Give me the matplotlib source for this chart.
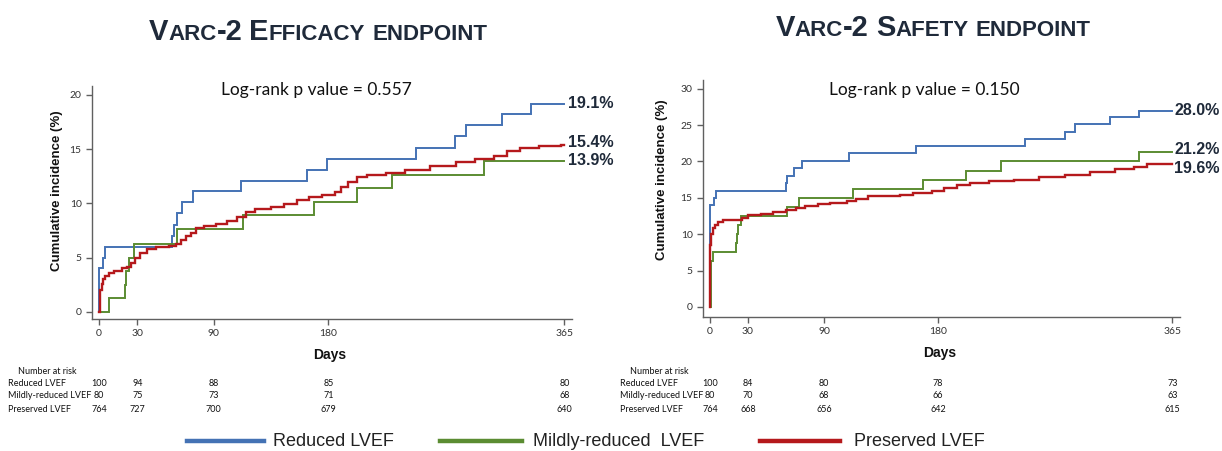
import matplotlib
matplotlib.use("Agg")
import matplotlib.pyplot as plt
from matplotlib import transforms
from matplotlib.lines import Line2D

# ---------------- data ----------------
groups = ["Reduced LVEF", "Mildly-reduced LVEF", "Preserved LVEF"]
legend_labels = ["Reduced LVEF", "Mildly-reduced  LVEF", "Preserved LVEF"]
x_ticks = [0, 30, 90, 180, 365]

# Efficacy endpoint
eff_blue_days = [0, 0, 3, 5, 57, 59, 61, 65, 74, 111, 163, 179, 249, 279, 288, 316, 339, 365]
eff_blue_vals = [0, 4.0, 5.0, 6.0, 7.0, 8.0, 9.1, 10.1, 11.1, 12.1, 13.1, 14.1, 15.1, 16.2, 17.2, 18.2, 19.1, 19.1]
eff_green_days = [0, 8, 20.5, 21.5, 23.5, 27.5, 61.5, 113, 169, 202, 230, 302, 365]
eff_green_vals = [0, 1.25, 2.5, 3.8, 5.0, 6.3, 7.6, 8.9, 10.1, 11.4, 12.6, 13.9, 13.9]
eff_red_days = [0, 0.5, 1, 2, 3, 5, 8, 12, 18, 22, 25, 28, 32, 38, 45, 55, 60, 64, 68, 72,
                76, 82, 92, 100, 108, 115, 122, 135, 145, 155, 165, 175, 185, 190, 195, 202,
                210, 225, 240, 260, 280, 295, 310, 320, 330, 345, 362, 365]
eff_red_vals = [0, 1.3, 2.0, 2.6, 3.0, 3.3, 3.6, 3.8, 4.0, 4.1, 4.5, 5.0, 5.4, 5.8, 6.0, 6.1,
                6.3, 6.6, 7.0, 7.3, 7.7, 7.9, 8.1, 8.4, 8.7, 9.2, 9.5, 9.7, 9.9, 10.3, 10.6,
                10.8, 11.0, 11.5, 12.0, 12.4, 12.6, 12.8, 13.1, 13.4, 13.8, 14.1, 14.4, 14.8,
                15.1, 15.3, 15.4, 15.4]
eff_end_labels = ["19.1%", "13.9%", "15.4%"]
eff_p = "Log-rank p value = 0.557"
eff_risk = [[100, 94, 88, 85, 80], [80, 75, 73, 71, 68], [764, 727, 700, 679, 640]]
eff_yticks = [0, 5, 10, 15, 20]

# Safety endpoint
saf_blue_days = [0, 0, 3, 4.5, 60, 61, 66, 73, 110, 163, 249, 280, 288, 316, 339, 365]
saf_blue_vals = [0, 14.0, 15.0, 16.0, 17.0, 18.0, 19.1, 20.1, 21.1, 22.1, 23.1, 24.1, 25.1, 26.1, 27.0, 27.0]
saf_green_days = [0, 0.5, 1, 2.5, 20.5, 21.5, 22.5, 24.5, 61, 70, 113, 168.5, 202, 230, 339, 365]
saf_green_vals = [0, 5.0, 6.25, 7.5, 8.75, 10.0, 11.25, 12.5, 13.75, 15.0, 16.25, 17.5, 18.75, 20.0, 21.25, 21.25]
saf_red_days = [0, 0.3, 1, 2, 4, 6, 10, 20, 25, 30, 40, 50, 60, 68, 75, 85, 95, 108, 115, 125,
                150, 160, 175, 185, 195, 205, 220, 240, 260, 280, 300, 320, 335, 345, 365]
saf_red_vals = [0, 8.5, 10.0, 10.8, 11.3, 11.7, 11.9, 12.0, 12.2, 12.6, 12.8, 13.1, 13.3, 13.6,
                13.9, 14.1, 14.3, 14.6, 14.9, 15.2, 15.4, 15.7, 16.0, 16.3, 16.8, 17.1, 17.3,
                17.5, 17.8, 18.1, 18.5, 18.9, 19.3, 19.6, 19.6]
saf_end_labels = ["28.0%", "21.2%", "19.6%"]
saf_p = "Log-rank p value = 0.150"
saf_risk = [[100, 84, 80, 78, 73], [80, 70, 68, 66, 63], [764, 668, 656, 642, 615]]
saf_yticks = [0, 5, 10, 15, 20, 25, 30]

# ---------------- style ----------------
colors = ["#4472b4", "#5b8c32", "#b5191c"]
navy = "#1f2a3a"
W, H = 1222, 451
ARIAL = "Liberation Sans"
CAL = "Lato"

fig = plt.figure(figsize=(W / 100, H / 100), dpi=100)


def fx(px):
    return px / W


def fy(py):
    return 1 - py / H


def make_axes(left, right, top, bottom, ylim, yticks):
    ax = fig.add_axes([fx(left), fy(bottom), fx(right - left), (bottom - top) / H])
    ax.set_xlim(-5.5, 371)
    ax.set_ylim(*ylim)
    for s in ("top", "right"):
        ax.spines[s].set_visible(False)
    for s in ("left", "bottom"):
        ax.spines[s].set_color("#606060")
        ax.spines[s].set_linewidth(1.0)
    ax.set_xticks(x_ticks)
    ax.set_yticks(yticks)
    ax.tick_params(axis="both", colors="#606060", labelcolor="#333333", labelsize=7.5,
                   length=4, width=1)
    for lab in ax.get_xticklabels() + ax.get_yticklabels():
        lab.set_family(CAL)
    ax.patch.set_alpha(0)
    return ax


def draw_panel(ax, series, end_labels, nudges, ptext, px_center, risk, days_x, days_y,
               ylab_x, ylab_y, risk_left, end_x):
    for (d, v), c in zip(series, colors):
        ax.step(d, v, where="post", color=c, lw=1.4 if c != colors[2] else 1.7,
                solid_joinstyle="miter")
    for (d, v), lab, c, n in zip(series, end_labels, colors, nudges):
        ax.text(end_x, v[-1] + n, lab, fontsize=11.5, fontweight="bold", family=ARIAL,
                color=navy, va="center", ha="left", clip_on=False)
    fig.text(fx(px_center), fy(90), ptext, fontsize=12.5, family=CAL, color="#111111",
             ha="center", va="center")
    fig.text(fx(ylab_x), fy(ylab_y), "Cumulative incidence (%)", rotation=90,
             fontsize=9.5, fontweight="bold", family=ARIAL, color="#111111",
             ha="center", va="center")
    fig.text(fx(days_x), fy(days_y), "Days", fontsize=10, fontweight="bold", family=ARIAL,
             color="#111111", ha="center", va="center")
    # number at risk table
    tr = transforms.blended_transform_factory(ax.transData, fig.transFigure)
    fig.text(fx(risk_left + 10), fy(371), "Number at risk", fontsize=6.5, family=CAL,
             color="#111111", ha="left", va="center")
    row_y = [383, 396, 409]
    for g, row, yy in zip(groups, risk, row_y):
        fig.text(fx(risk_left), fy(yy), g, fontsize=6.5, family=CAL, color="#111111",
                 ha="left", va="center")
        for xd, n in zip(x_ticks, row):
            ax.text(xd, fy(yy), str(n), transform=tr, fontsize=6.5, family=CAL,
                    color="#111111", ha="center", va="center")


def smallcaps_title(pieces, xc, ybase):
    r = fig.canvas.get_renderer()
    arts = []
    total = 0
    for s, size in pieces:
        if s == " ":
            arts.append((None, 7))
            total += 7
            continue
        t = fig.text(0, fy(ybase), s, fontsize=size, fontweight="bold", family=ARIAL,
                     color=navy, ha="left", va="baseline")
        w = t.get_window_extent(r).width
        arts.append((t, w))
        total += w
    x = xc - total / 2
    for t, w in arts:
        if t is not None:
            t.set_x(fx(x))
        x += w


# ---------------- left panel ----------------
axL = make_axes(92, 572, 86, 319, (-0.65, 20.8), eff_yticks)
draw_panel(axL,
           [(eff_blue_days, eff_blue_vals), (eff_green_days, eff_green_vals),
            (eff_red_days, eff_red_vals)],
           eff_end_labels, [0.1, 0, 0.2], eff_p, 316, eff_risk, 330, 355, 57, 191, 8, 368)

# ---------------- right panel ----------------
axR = make_axes(703, 1180, 80, 317, (-1.38, 31.2), saf_yticks)
draw_panel(axR,
           [(saf_blue_days, saf_blue_vals), (saf_green_days, saf_green_vals),
            (saf_red_days, saf_red_vals)],
           saf_end_labels, [0, 0.45, -0.5], saf_p, 924, saf_risk, 940, 353, 662, 180, 620,
           366.5)

B, S = 21, 16
smallcaps_title([("V", B), ("ARC", S), ("-2", B), (" ", 0), ("E", B), ("FFICACY", S),
                 (" ", 0), ("ENDPOINT", S)], 318, 40)
smallcaps_title([("V", B), ("ARC", S), ("-2", B), (" ", 0), ("S", B), ("AFETY", S),
                 (" ", 0), ("ENDPOINT", S)], 933, 36)

# ---------------- legend ----------------
leg_lines = [(187, 264), (440, 522), (760, 840)]
leg_text_x = [273, 533, 854]
for (x0, x1), tx, lab, c in zip(leg_lines, leg_text_x, legend_labels, colors):
    fig.add_artist(Line2D([fx(x0), fx(x1)], [fy(441), fy(441)], color=c, lw=3.2,
                          transform=fig.transFigure))
    fig.text(fx(tx), fy(441), lab, fontsize=13, family=ARIAL, color="#222222",
             ha="left", va="center")

fig.savefig("out.png", dpi=100)
